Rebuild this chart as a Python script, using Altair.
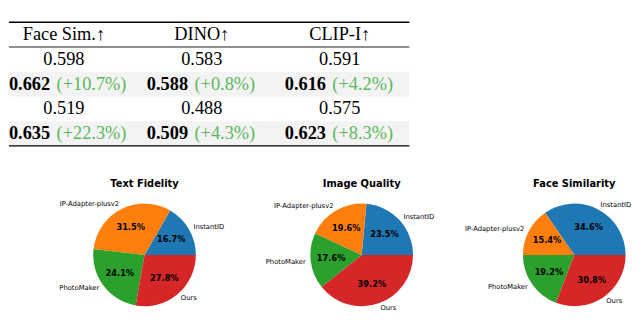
import math
import altair as alt
import pandas as pd

# ---------------- table data ----------------
metrics = ["Face Sim.↑", "DINO↑", "CLIP-I↑"]
base_a = [0.598, 0.583, 0.591]
ours_a = [0.662, 0.588, 0.616]
gain_a = [10.7, 0.8, 4.2]
base_b = [0.519, 0.488, 0.575]
ours_b = [0.635, 0.509, 0.623]
gain_b = [22.3, 4.3, 8.3]
row_names = ["head", "base_a", "ours_a", "base_b", "ours_b"]

# ---------------- pie data ----------------
methods = ["InstantID", "IP-Adapter-plusv2", "PhotoMaker", "Ours"]
pie_titles = ["Text Fidelity", "Image Quality", "Face Similarity"]
text_fidelity = [16.7, 31.5, 24.1, 27.8]
image_quality = [23.5, 19.6, 17.6, 39.2]
face_similarity = [34.6, 15.4, 19.2, 30.8]
pie_colors = ["#1f77b4", "#ff7f0e", "#2ca02c", "#d62728"]

# ---------------- table ----------------
cells = []
for i, m in enumerate(metrics):
    cells.append(dict(row="head", col=m, text=m, delta="", kind="head"))
    cells.append(dict(row="base_a", col=m, text=f"{base_a[i]:.3f}", delta="", kind="plain"))
    cells.append(dict(row="ours_a", col=m, text=f"{ours_a[i]:.3f}", delta=f"(+{gain_a[i]:.1f}%)", kind="ours"))
    cells.append(dict(row="base_b", col=m, text=f"{base_b[i]:.3f}", delta="", kind="plain"))
    cells.append(dict(row="ours_b", col=m, text=f"{ours_b[i]:.3f}", delta=f"(+{gain_b[i]:.1f}%)", kind="ours"))
cells_df = pd.DataFrame(cells)
rows_df = pd.DataFrame({"row": row_names})

SERIF = "Liberation Serif"
FS = 20
TW = 624
TABLE_RIGHT = 437
x_enc = alt.X("col:N", scale=alt.Scale(type="point", domain=metrics, range=[60, 361], padding=0), axis=None)
y_scale = alt.Scale(type="band", domain=row_names, range=[1, 136], paddingInner=0, paddingOuter=0)
y_enc = alt.Y("row:N", scale=y_scale, axis=None)

bands = alt.Chart(rows_df).transform_filter(
    "datum.row == 'ours_a' || datum.row == 'ours_b'"
).mark_rect(color="#f3f3f3").encode(y=y_enc, x=alt.value(0), x2=alt.value(TABLE_RIGHT))

top_rule = alt.Chart(rows_df).transform_filter("datum.row == 'head'").mark_rule(
    color="black", strokeWidth=1.6
).encode(y=alt.Y("row:N", scale=y_scale, axis=None, bandPosition=0), x=alt.value(0), x2=alt.value(TABLE_RIGHT))
mid_rule = alt.Chart(rows_df).transform_filter("datum.row == 'head'").mark_rule(
    color="#222222", strokeWidth=1.1
).encode(y=alt.Y("row:N", scale=y_scale, axis=None, bandPosition=1), x=alt.value(0), x2=alt.value(TABLE_RIGHT))
bot_rule = alt.Chart(rows_df).transform_filter("datum.row == 'ours_b'").mark_rule(
    color="black", strokeWidth=1.6
).encode(y=alt.Y("row:N", scale=y_scale, axis=None, bandPosition=1), x=alt.value(0), x2=alt.value(TABLE_RIGHT))

tbase = alt.Chart(cells_df)
plain_txt = tbase.transform_filter("datum.kind != 'ours'").mark_text(
    font=SERIF, fontSize=FS, color="black", baseline="middle"
).encode(x=x_enc, y=y_enc, text="text:N")
bold_txt = tbase.transform_filter("datum.kind == 'ours'").mark_text(
    font=SERIF, fontSize=FS, fontWeight="bold", color="black", align="right", dx=-15, baseline="middle"
).encode(x=x_enc, y=y_enc, text="text:N")
delta_txt = tbase.transform_filter("datum.kind == 'ours'").mark_text(
    font=SERIF, fontSize=FS, color="#5cb85c", align="left", dx=-8, baseline="middle"
).encode(x=x_enc, y=y_enc, text="delta:N")

table = alt.layer(bands, plain_txt, bold_txt, delta_txt, top_rule, mid_rule, bot_rule).properties(
    width=TW, height=140
)

# ---------------- pies ----------------
SANS = "DejaVu Sans"
R = 56
CY = 115
theta_scale = alt.Scale(domain=[0, 1], range=[2.5 * math.pi, 0.5 * math.pi])


def make_pie(title, values, cx):
    df = pd.DataFrame({"method": methods, "share": values, "idx": list(range(len(methods)))})
    base = (
        alt.Chart(df)
        .transform_window(cum="sum(share)", sort=[alt.SortField("idx")])
        .transform_joinaggregate(total="sum(share)")
        .transform_calculate(
            start="(datum.cum - datum.share) / datum.total",
            end="datum.cum / datum.total",
            mid="(datum.cum - datum.share / 2) / datum.total",
            pct="format(datum.share, '.1f') + '%'",
            side="cos(2 * PI * (datum.cum - datum.share / 2) / datum.total) >= 0 ? 1 : 0",
        )
    )
    arcs = base.mark_arc(radius=R).encode(
        theta=alt.Theta("start:Q", scale=theta_scale),
        theta2="end:Q",
        color=alt.Color("method:N", scale=alt.Scale(domain=methods, range=pie_colors), legend=None),
        x=alt.value(cx),
        y=alt.value(CY),
    )
    pct = base.mark_text(
        radius=R * 0.6, font=SANS, fontSize=9, fontWeight="bold", color="black", baseline="middle"
    ).encode(
        theta=alt.Theta("mid:Q", scale=theta_scale, stack=None),
        text="pct:N",
        x=alt.value(cx),
        y=alt.value(CY),
    )
    lab_r = base.transform_filter("datum.side == 1").mark_text(
        radius=R * 1.1, font=SANS, fontSize=7.4, color="black", align="left", baseline="middle"
    ).encode(
        theta=alt.Theta("mid:Q", scale=theta_scale, stack=None),
        text="method:N",
        x=alt.value(cx),
        y=alt.value(CY),
    )
    lab_l = base.transform_filter("datum.side == 0").mark_text(
        radius=R * 1.1, font=SANS, fontSize=7.4, color="black", align="right", baseline="middle"
    ).encode(
        theta=alt.Theta("mid:Q", scale=theta_scale, stack=None),
        text="method:N",
        x=alt.value(cx),
        y=alt.value(CY),
    )
    ttl = alt.Chart(pd.DataFrame({"t": [title]})).mark_text(
        font=SANS, fontSize=10.8, fontWeight="bold", color="black", baseline="alphabetic"
    ).encode(text="t:N", x=alt.value(cx), y=alt.value(CY - 74))
    return alt.layer(arcs, pct, lab_r, lab_l, ttl).properties(width=208, height=175)


p1 = make_pie(pie_titles[0], text_fidelity, 148)
p2 = make_pie(pie_titles[1], image_quality, 150)
p3 = make_pie(pie_titles[2], face_similarity, 152)

pies = alt.hconcat(p1, p2, p3, spacing=0)

chart = (
    alt.vconcat(table, pies, spacing=0)
    .properties(padding=0, background="white")
    .configure_view(stroke=None)
)

chart.save("out.html", embed_options={"renderer": "svg", "actions": False})
